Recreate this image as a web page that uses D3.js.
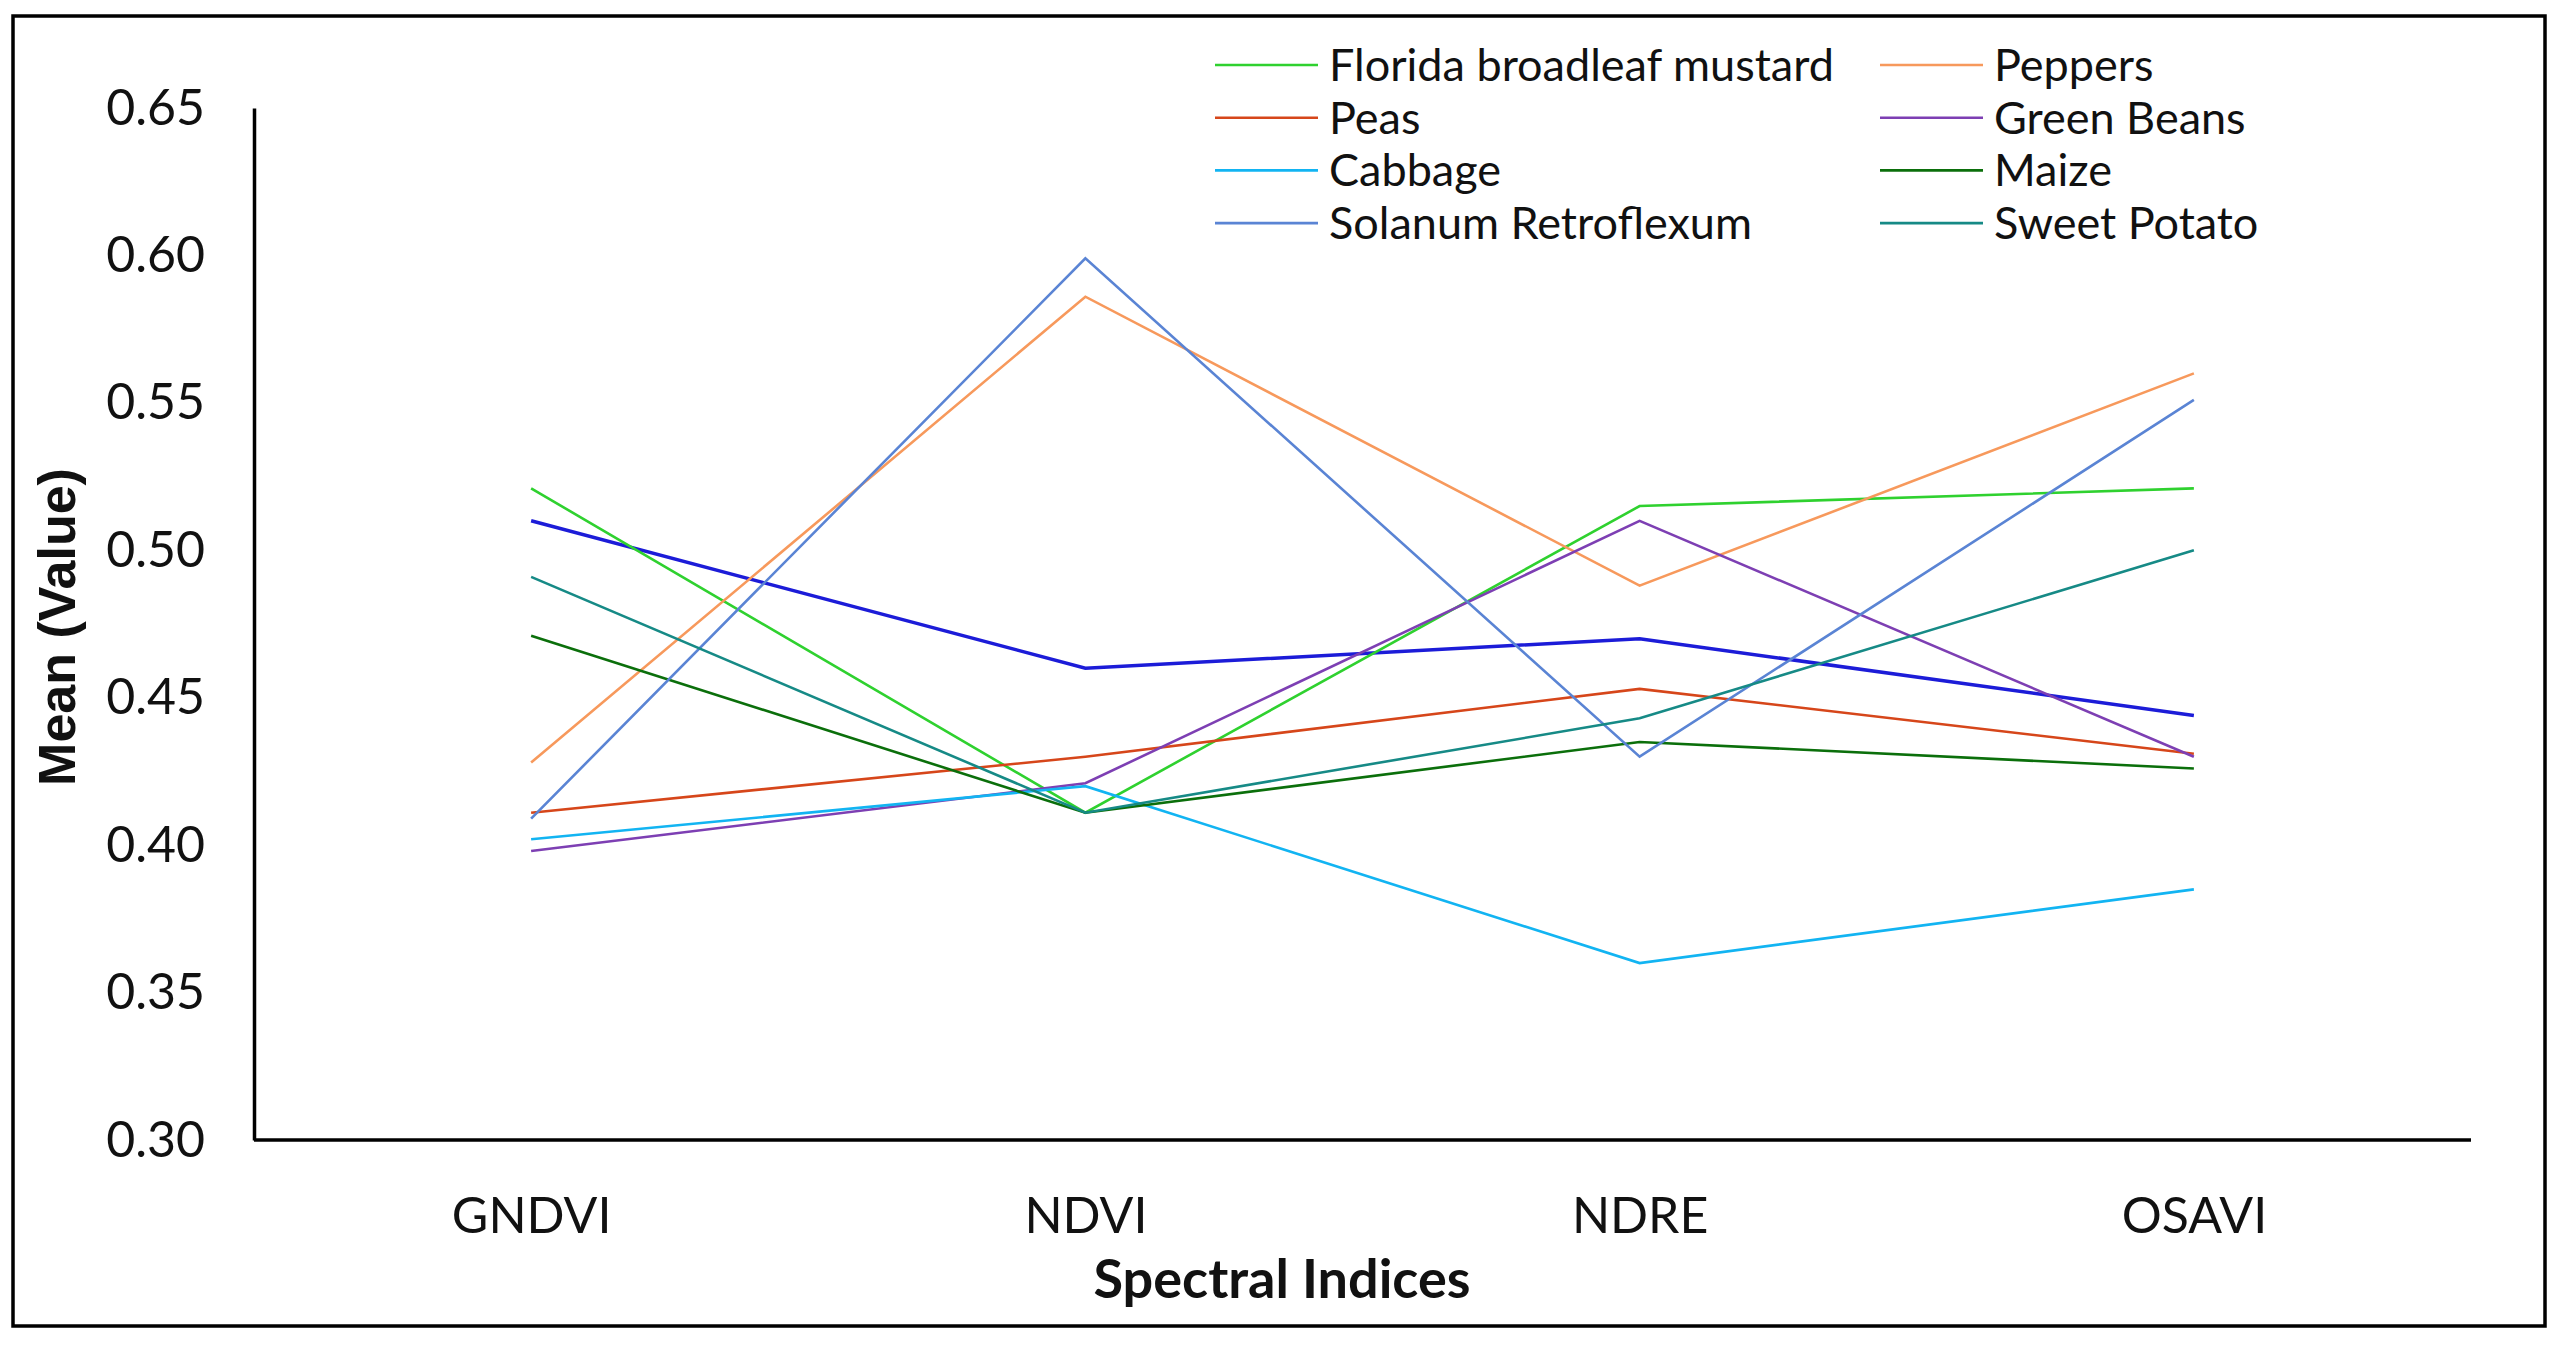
<!DOCTYPE html>
<html>
<head>
<meta charset="utf-8">
<script src="https://cdn.jsdelivr.net/npm/d3@7"></script>
<style>
  body { margin: 0; background: #fff; }
</style>
</head>
<body>
<div id="chart"></div>
<script>
// categories and tick labels
var indices = ["GNDVI", "NDVI", "NDRE", "OSAVI"];
var yTicks = [0.30, 0.35, 0.40, 0.45, 0.50, 0.55, 0.60, 0.65];

// series values (mean per spectral index)
var unlabelledBlue   = [0.510, 0.460, 0.470, 0.444];
var floridaMustard   = [0.521, 0.411, 0.515, 0.521];
var peppers          = [0.428, 0.586, 0.488, 0.560];
var peas             = [0.411, 0.430, 0.453, 0.431];
var greenBeans       = [0.398, 0.421, 0.510, 0.430];
var cabbage          = [0.402, 0.420, 0.360, 0.385];
var maize            = [0.471, 0.411, 0.435, 0.426];
var solanum          = [0.409, 0.599, 0.430, 0.551];
var sweetPotato      = [0.491, 0.411, 0.443, 0.500];

var seriesNames = ["", "Florida broadleaf mustard", "Peppers", "Peas", "Green Beans",
                   "Cabbage", "Maize", "Solanum Retroflexum", "Sweet Potato"];
var seriesColors = ["#1c1cd8", "#2fd12f", "#f7995c", "#d6461a", "#7d3fb3",
                    "#12b4f2", "#0b6f0b", "#5a84d4", "#168a86"];

var series = [unlabelledBlue, floridaMustard, peppers, peas, greenBeans,
              cabbage, maize, solanum, sweetPotato].map(function(vals, i) {
  return {
    name: seriesNames[i],
    color: seriesColors[i],
    width: i === 0 ? 3.5 : 2.6,
    values: vals.map(function(v, j) { return {key: indices[j], value: v}; })
  };
});

var W = 2564, H = 1361;
var plot = {left: 254, right: 2471, top: 108, bottom: 1140};
var font = "Lato, 'Open Sans', sans-serif";

var svg = d3.select("#chart")
  .append("svg")
    .attr("width", W)
    .attr("height", H);

svg.append("rect")
  .attr("width", W).attr("height", H)
  .attr("fill", "#fff");

// outer frame
svg.append("rect")
  .attr("x", 13).attr("y", 16)
  .attr("width", 2532).attr("height", 1310)
  .attr("fill", "none")
  .attr("stroke", "#000")
  .attr("stroke-width", 3.5);

// scales
var x = d3.scalePoint()
  .domain(indices)
  .range([plot.left, plot.right])
  .padding(0.5);

var y = d3.scaleLinear()
  .domain([0.30, 0.65])
  .range([plot.bottom, plot.top]);

// Y axis
var yAxis = svg.append("g")
  .attr("transform", "translate(" + plot.left + ",0)")
  .call(d3.axisLeft(y).tickValues(yTicks).tickSize(0).tickPadding(49)
    .tickFormat(d3.format(".2f")));
yAxis.select(".domain").attr("stroke", "#000").attr("stroke-width", 3.5);
yAxis.selectAll("text")
  .attr("font-family", font)
  .attr("font-size", 50)
  .attr("fill", "#111");

// X axis
var xAxis = svg.append("g")
  .attr("transform", "translate(0," + plot.bottom + ")")
  .call(d3.axisBottom(x).tickSize(0).tickPadding(57));
xAxis.select(".domain")
  .attr("d", "M" + plot.left + ",0H" + plot.right)
  .attr("stroke", "#000").attr("stroke-width", 3.5);
xAxis.selectAll("text")
  .attr("font-family", font)
  .attr("font-size", 50)
  .attr("fill", "#111");

// axis titles
svg.append("text")
  .attr("x", 1282).attr("y", 1298)
  .attr("text-anchor", "middle")
  .attr("font-family", font)
  .attr("font-weight", "bold")
  .attr("font-size", 54)
  .attr("fill", "#111")
  .text("Spectral Indices");

svg.append("text")
  .attr("transform", "translate(75,627) rotate(-90)")
  .attr("text-anchor", "middle")
  .attr("font-family", "'Liberation Sans', Arial, sans-serif")
  .attr("font-weight", "bold")
  .attr("font-size", 52)
  .attr("fill", "#111")
  .text("Mean (Value)");

// lines
var line = d3.line()
  .x(function(d) { return x(d.key); })
  .y(function(d) { return y(d.value); });

svg.append("g")
  .selectAll("path")
  .data(series)
  .enter().append("path")
    .attr("d", function(d) { return line(d.values); })
    .attr("fill", "none")
    .attr("stroke", function(d) { return d.color; })
    .attr("stroke-width", function(d) { return d.width; })
    .attr("stroke-linejoin", "miter");

// legend, two columns, row-major
var legendItems = series.filter(function(d) { return d.name !== ""; });
var legend = svg.append("g")
  .selectAll("g")
  .data(legendItems)
  .enter().append("g")
    .attr("transform", function(d, i) {
      var col = i % 2, row = Math.floor(i / 2);
      return "translate(" + (col === 0 ? 1215 : 1880) + "," + (65 + row * 52.7) + ")";
    });

legend.append("line")
  .attr("x1", 0).attr("x2", 103)
  .attr("stroke", function(d) { return d.color; })
  .attr("stroke-width", 2.6);

legend.append("text")
  .attr("x", 114)
  .attr("y", 16)
  .attr("font-family", font)
  .attr("font-size", 45)
  .attr("fill", "#111")
  .text(function(d) { return d.name; });
</script>
</body>
</html>
